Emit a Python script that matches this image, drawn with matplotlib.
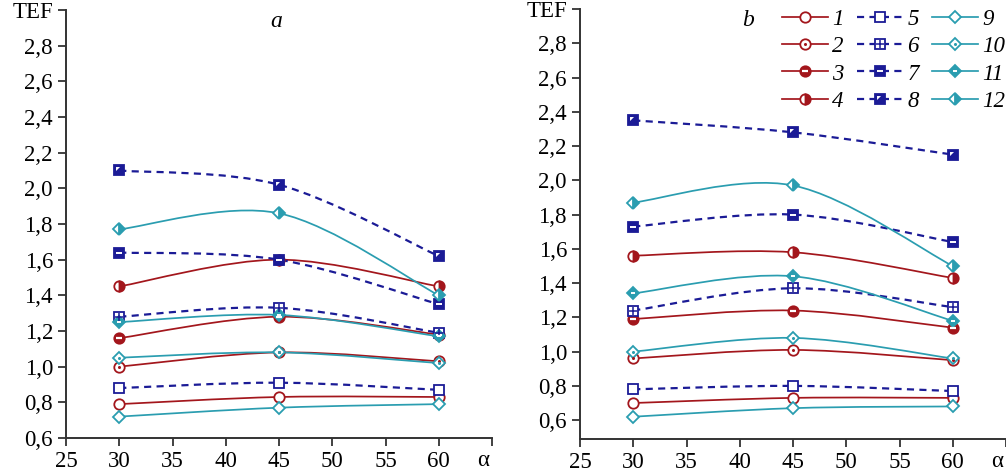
import numpy as np
import matplotlib
matplotlib.use("Agg")
import matplotlib.pyplot as plt
from matplotlib.path import Path
from matplotlib.patches import PathPatch
from matplotlib.lines import Line2D

plt.rcParams['font.family'] = ['Liberation Serif', 'DejaVu Serif']

# ---------------- data ----------------
alpha = [30, 45, 60]

# panel a
a1 = [0.79, 0.83, 0.83]
a2 = [1.00, 1.08, 1.03]
a3 = [1.16, 1.28, 1.18]
a4 = [1.45, 1.60, 1.45]
a5 = [0.88, 0.91, 0.87]
a6 = [1.28, 1.33, 1.19]
a7 = [1.64, 1.60, 1.35]
a8 = [2.10, 2.02, 1.62]
a9 = [0.72, 0.77, 0.79]
a10 = [1.05, 1.08, 1.02]
a11 = [1.25, 1.29, 1.17]
a12 = [1.77, 1.86, 1.40]

# panel b
b1 = [0.70, 0.73, 0.73]
b2 = [0.96, 1.01, 0.95]
b3 = [1.19, 1.24, 1.14]
b4 = [1.56, 1.58, 1.43]
b5 = [0.78, 0.80, 0.77]
b6 = [1.24, 1.37, 1.26]
b7 = [1.73, 1.80, 1.64]
b8 = [2.35, 2.28, 2.15]
b9 = [0.62, 0.67, 0.68]
b10 = [1.00, 1.08, 0.96]
b11 = [1.34, 1.44, 1.18]
b12 = [1.87, 1.97, 1.50]

series_labels = ['1', '2', '3', '4', '5', '6', '7', '8', '9', '10', '11', '12']
x_ticks = [25, 30, 35, 40, 45, 50, 55, 60, 65]
x_ticklabels = ['25', '30', '35', '40', '45', '50', '55', '60', '']
y_ticks = [0.6, 0.8, 1.0, 1.2, 1.4, 1.6, 1.8, 2.0, 2.2, 2.4, 2.6, 2.8, 3.0]
y_ticklabels = ['0,6', '0,8', '1,0', '1,2', '1,4', '1,6', '1,8', '2,0', '2,2', '2,4', '2,6', '2,8', 'TEF']

panel_a = [a1, a2, a3, a4, a5, a6, a7, a8, a9, a10, a11, a12]
panel_b = [b1, b2, b3, b4, b5, b6, b7, b8, b9, b10, b11, b12]

# ---------------- styles ----------------
RED = '#a3161c'
BLUE = '#1b1b96'
TEAL = '#2a9db0'
W = 'white'

tri = Path([(-1, 1), (0.15, 1), (-1, -0.15), (-1, 1)],
           [Path.MOVETO, Path.LINETO, Path.LINETO, Path.CLOSEPOLY])

def style(i):
    """return (color, linestyle, linewidth, base marker kwargs, overlay kwargs or None)"""
    if i < 4:
        c, ls = RED, '-'
        base = dict(marker='o', markersize=7.5, markeredgecolor=c, markeredgewidth=1.3)
        if i == 0:
            base.update(markerfacecolor=W); ov = None
        elif i == 1:
            base.update(markerfacecolor=W); ov = dict(marker='o', markersize=2.2, color=c, markeredgewidth=0)
        elif i == 2:
            base.update(markerfacecolor=c); ov = dict(marker='_', markersize=5, color=W, markeredgewidth=1.6)
        else:
            base.update(markerfacecolor=c, fillstyle='right', markerfacecoloralt=W); ov = None
    elif i < 8:
        c, ls = BLUE, (0, (3.2, 2.4))
        base = dict(marker='s', markersize=6.8, markeredgecolor=c, markeredgewidth=1.3)
        if i == 4:
            base.update(markerfacecolor=W); ov = None
        elif i == 5:
            base.update(markerfacecolor=W); ov = dict(marker='+', markersize=5.5, color=c, markeredgewidth=1.1)
        elif i == 6:
            base.update(markerfacecolor=c); ov = dict(marker='_', markersize=4.5, color=W, markeredgewidth=1.4)
        else:
            base.update(markerfacecolor=c); ov = dict(marker=tri, markersize=5.0, color=W, markeredgewidth=0)
    else:
        c, ls = TEAL, '-'
        base = dict(marker='D', markersize=6.3, markeredgecolor=c, markeredgewidth=1.3)
        if i == 8:
            base.update(markerfacecolor=W); ov = None
        elif i == 9:
            base.update(markerfacecolor=W); ov = dict(marker='o', markersize=2.2, color=c, markeredgewidth=0)
        elif i == 10:
            base.update(markerfacecolor=c); ov = dict(marker='_', markersize=3.5, color=W, markeredgewidth=1.4)
        else:
            base.update(markerfacecolor=c, fillstyle='right', markerfacecoloralt=W); ov = None
    lw = 1.6 if 4 <= i < 8 else 1.25
    return c, ls, lw, base, ov


def smooth_path(xs, ys):
    pts = np.column_stack([xs, ys]).astype(float)
    n = len(pts)
    verts = [pts[0]]
    codes = [Path.MOVETO]
    for k in range(n - 1):
        p0 = pts[k - 1] if k > 0 else pts[k]
        p1 = pts[k]
        p2 = pts[k + 1]
        p3 = pts[k + 2] if k + 2 < n else pts[k + 1]
        c1 = p1 + (p2 - p0) / 6.0
        c2 = p2 - (p3 - p1) / 6.0
        verts += [c1, c2, p2]
        codes += [Path.CURVE4] * 3
    return Path(verts, codes)


def draw_panel(ax, data, ymin, letter, lx, ly):
    for i, ys in enumerate(data):
        c, ls, lw, base, ov = style(i)
        patch = PathPatch(smooth_path(alpha, ys), fill=False, edgecolor=c,
                          linestyle=ls, linewidth=lw, zorder=2, capstyle='butt')
        ax.add_patch(patch)
        ax.plot(alpha, ys, linestyle='none', zorder=3, **base)
        if ov is not None:
            ax.plot(alpha, ys, linestyle='none', zorder=4, **ov)
    ax.set_xlim(25, 65)
    ax.set_ylim(ymin, 3.0)
    ax.set_xticks(x_ticks)
    ax.set_xticklabels(x_ticklabels)
    ax.set_yticks(y_ticks)
    ax.set_yticklabels(y_ticklabels)
    for lab in ax.get_yticklabels():
        if lab.get_text() == 'TEF':
            lab.set_fontsize(15)
    ax.tick_params(axis='both', labelsize=16.5, width=1.3, length=5.5, color='#333333',
                   direction='out')
    ax.tick_params(axis='y', pad=3.9)
    ax.tick_params(axis='x', pad=3.8)
    for s in ['top', 'right']:
        ax.spines[s].set_visible(False)
    for s in ['left', 'bottom']:
        ax.spines[s].set_linewidth(1.4)
        ax.spines[s].set_color('#333333')
    ax.text(lx, ly, letter, transform=ax.transAxes, fontsize=17, fontstyle='italic',
            ha='center', va='center')
    ax.text(64.2, -22 / 428, 'α', transform=ax.get_xaxis_transform(), fontsize=16.5,
            ha='center', va='center', clip_on=False)


fig = plt.figure(figsize=(10.06, 4.72), dpi=100)
axA = fig.add_axes([66 / 1006, 1 - 438 / 472, 426 / 1006, 428 / 472])
axB = fig.add_axes([580 / 1006, 1 - 439 / 472, 426 / 1006, 430 / 472])

draw_panel(axA, panel_a, 0.6, 'a', 0.493, 0.972)
draw_panel(axB, panel_b, 0.49, 'b', 0.394, 0.974)

# legend
handles = []
for i in range(12):
    c, ls, lw, base, ov = style(i)
    h = Line2D([], [], color=c, linestyle=ls, linewidth=lw, **base)
    if ov is not None:
        h2 = Line2D([], [], linestyle='none', **ov)
        handles.append((h, h2))
    else:
        handles.append(h)

leg = fig.legend(handles, series_labels, ncol=3, loc='upper left',
                 bbox_to_anchor=(782 / 1006, 1 - 9 / 472), frameon=False,
                 borderpad=0, borderaxespad=0, handlelength=2.0, handletextpad=0.18,
                 columnspacing=0.6, labelspacing=0.27,
                 prop=dict(family='Liberation Serif', style='italic', size=16.5))

fig.savefig('out.png', dpi=100)
